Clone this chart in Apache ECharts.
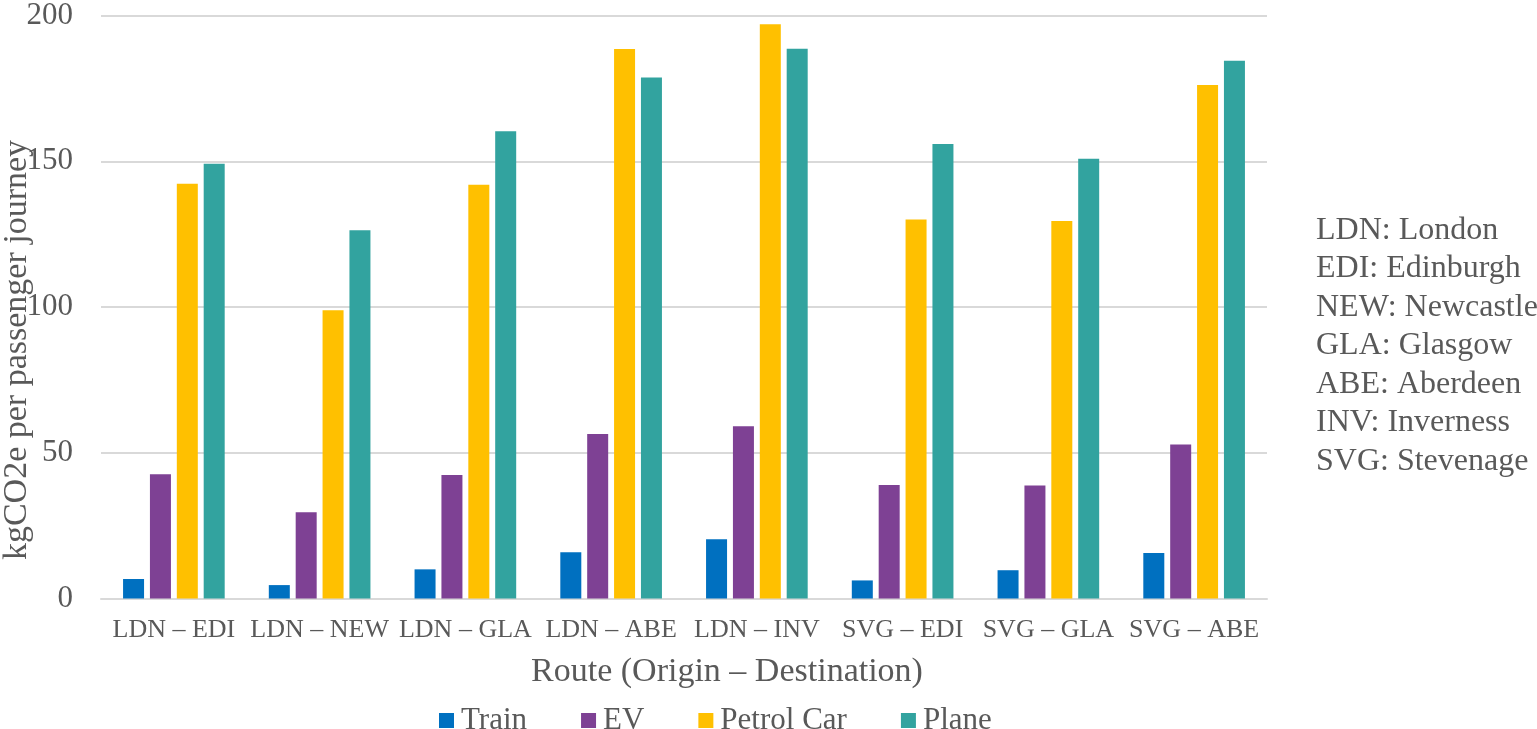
<!DOCTYPE html>
<html lang="en">
  <head>
    <meta charset="utf-8" />
    <title>kgCO2e per passenger journey</title>
    <style type="text/css">
    html, body { margin: 0; padding: 0; background: #fff; }
    #chart { width: 1537px; height: 729px; }
    </style>
    <script src="https://cdn.jsdelivr.net/npm/echarts@6/dist/echarts.min.js"></script>
  </head>
<body>
  <div id="chart"></div>
  <script type="text/javascript">
  // routes on the x axis
  var routes = ['LDN – EDI', 'LDN – NEW', 'LDN – GLA', 'LDN – ABE', 'LDN – INV', 'SVG – EDI', 'SVG – GLA', 'SVG – ABE'];
  // kgCO2e per passenger journey
  var train  = [6.7, 4.6, 10.0, 15.9, 20.3, 6.2, 9.7, 15.6];
  var ev     = [42.6, 29.6, 42.4, 56.4, 59.1, 38.9, 38.8, 52.8];
  var petrol = [142.3, 98.9, 141.9, 188.5, 197.0, 130.0, 129.5, 176.2];
  var plane  = [149.1, 126.3, 160.3, 178.7, 188.6, 155.9, 150.9, 184.5];
  var seriesNames = ['Train', 'EV', 'Petrol Car', 'Plane'];
  var seriesColors = ['#0070C0', '#7E4194', '#FFC000', '#32A39F'];
  // abbreviations key on the right
  var keyLines = ['LDN: London', 'EDI: Edinburgh', 'NEW: Newcastle', 'GLA: Glasgow', 'ABE: Aberdeen', 'INV: Inverness', 'SVG: Stevenage'];

  var font = '"Liberation Serif", "Times New Roman", serif';
  var grey = '#595959';

  var chart = echarts.init(document.getElementById('chart'));
  var allData = [train, ev, petrol, plane];

  var option = {
    animation: false,
    textStyle: { fontFamily: font, color: grey },
    grid: { left: 101, right: 270, top: 14.5, bottom: 130.5 },
    legend: {
      left: 434,
      top: 700,
      itemWidth: 15,
      itemHeight: 15,
      itemGap: 54,
      icon: 'rect',
      textStyle: { fontFamily: font, fontSize: 31, color: grey, padding: [0, 0, 0, 2] },
      data: seriesNames
    },
    xAxis: {
      type: 'category',
      data: routes,
      axisTick: { show: false },
      axisLine: { lineStyle: { color: '#d9d9d9', width: 2 } },
      axisLabel: { fontFamily: font, fontSize: 26, color: grey, margin: 19, interval: 0 }
    },
    yAxis: {
      type: 'value',
      min: 0,
      max: 200,
      interval: 50,
      axisLine: { show: false },
      axisTick: { show: false },
      splitLine: { lineStyle: { color: '#d9d9d9', width: 2 } },
      axisLabel: { fontFamily: font, fontSize: 31, color: grey, margin: 28 }
    },
    series: seriesNames.map(function (n, i) {
      return {
        name: n,
        type: 'bar',
        data: allData[i],
        barWidth: 21,
        barGap: '28%',
        itemStyle: { color: seriesColors[i] }
      };
    }),
    graphic: [
      {
        // y axis title
        type: 'text',
        x: 17,
        y: 350,
        rotation: Math.PI / 2,
        style: {
          text: 'kgCO2e per passenger journey',
          font: '34px ' + font,
          fill: grey,
          textAlign: 'center',
          textVerticalAlign: 'middle'
        }
      },
      {
        // x axis title
        type: 'text',
        x: 727,
        y: 672,
        style: {
          text: 'Route (Origin – Destination)',
          font: '34px ' + font,
          fill: grey,
          textAlign: 'center',
          textVerticalAlign: 'middle'
        }
      },
      {
        type: 'text',
        left: 1316,
        top: 211,
        style: {
          text: keyLines.join('\n'),
          font: '32px ' + font,
          lineHeight: 38.5,
          fill: grey
        }
      }
    ]
  };
  chart.setOption(option);
  </script>
</body>
</html>
